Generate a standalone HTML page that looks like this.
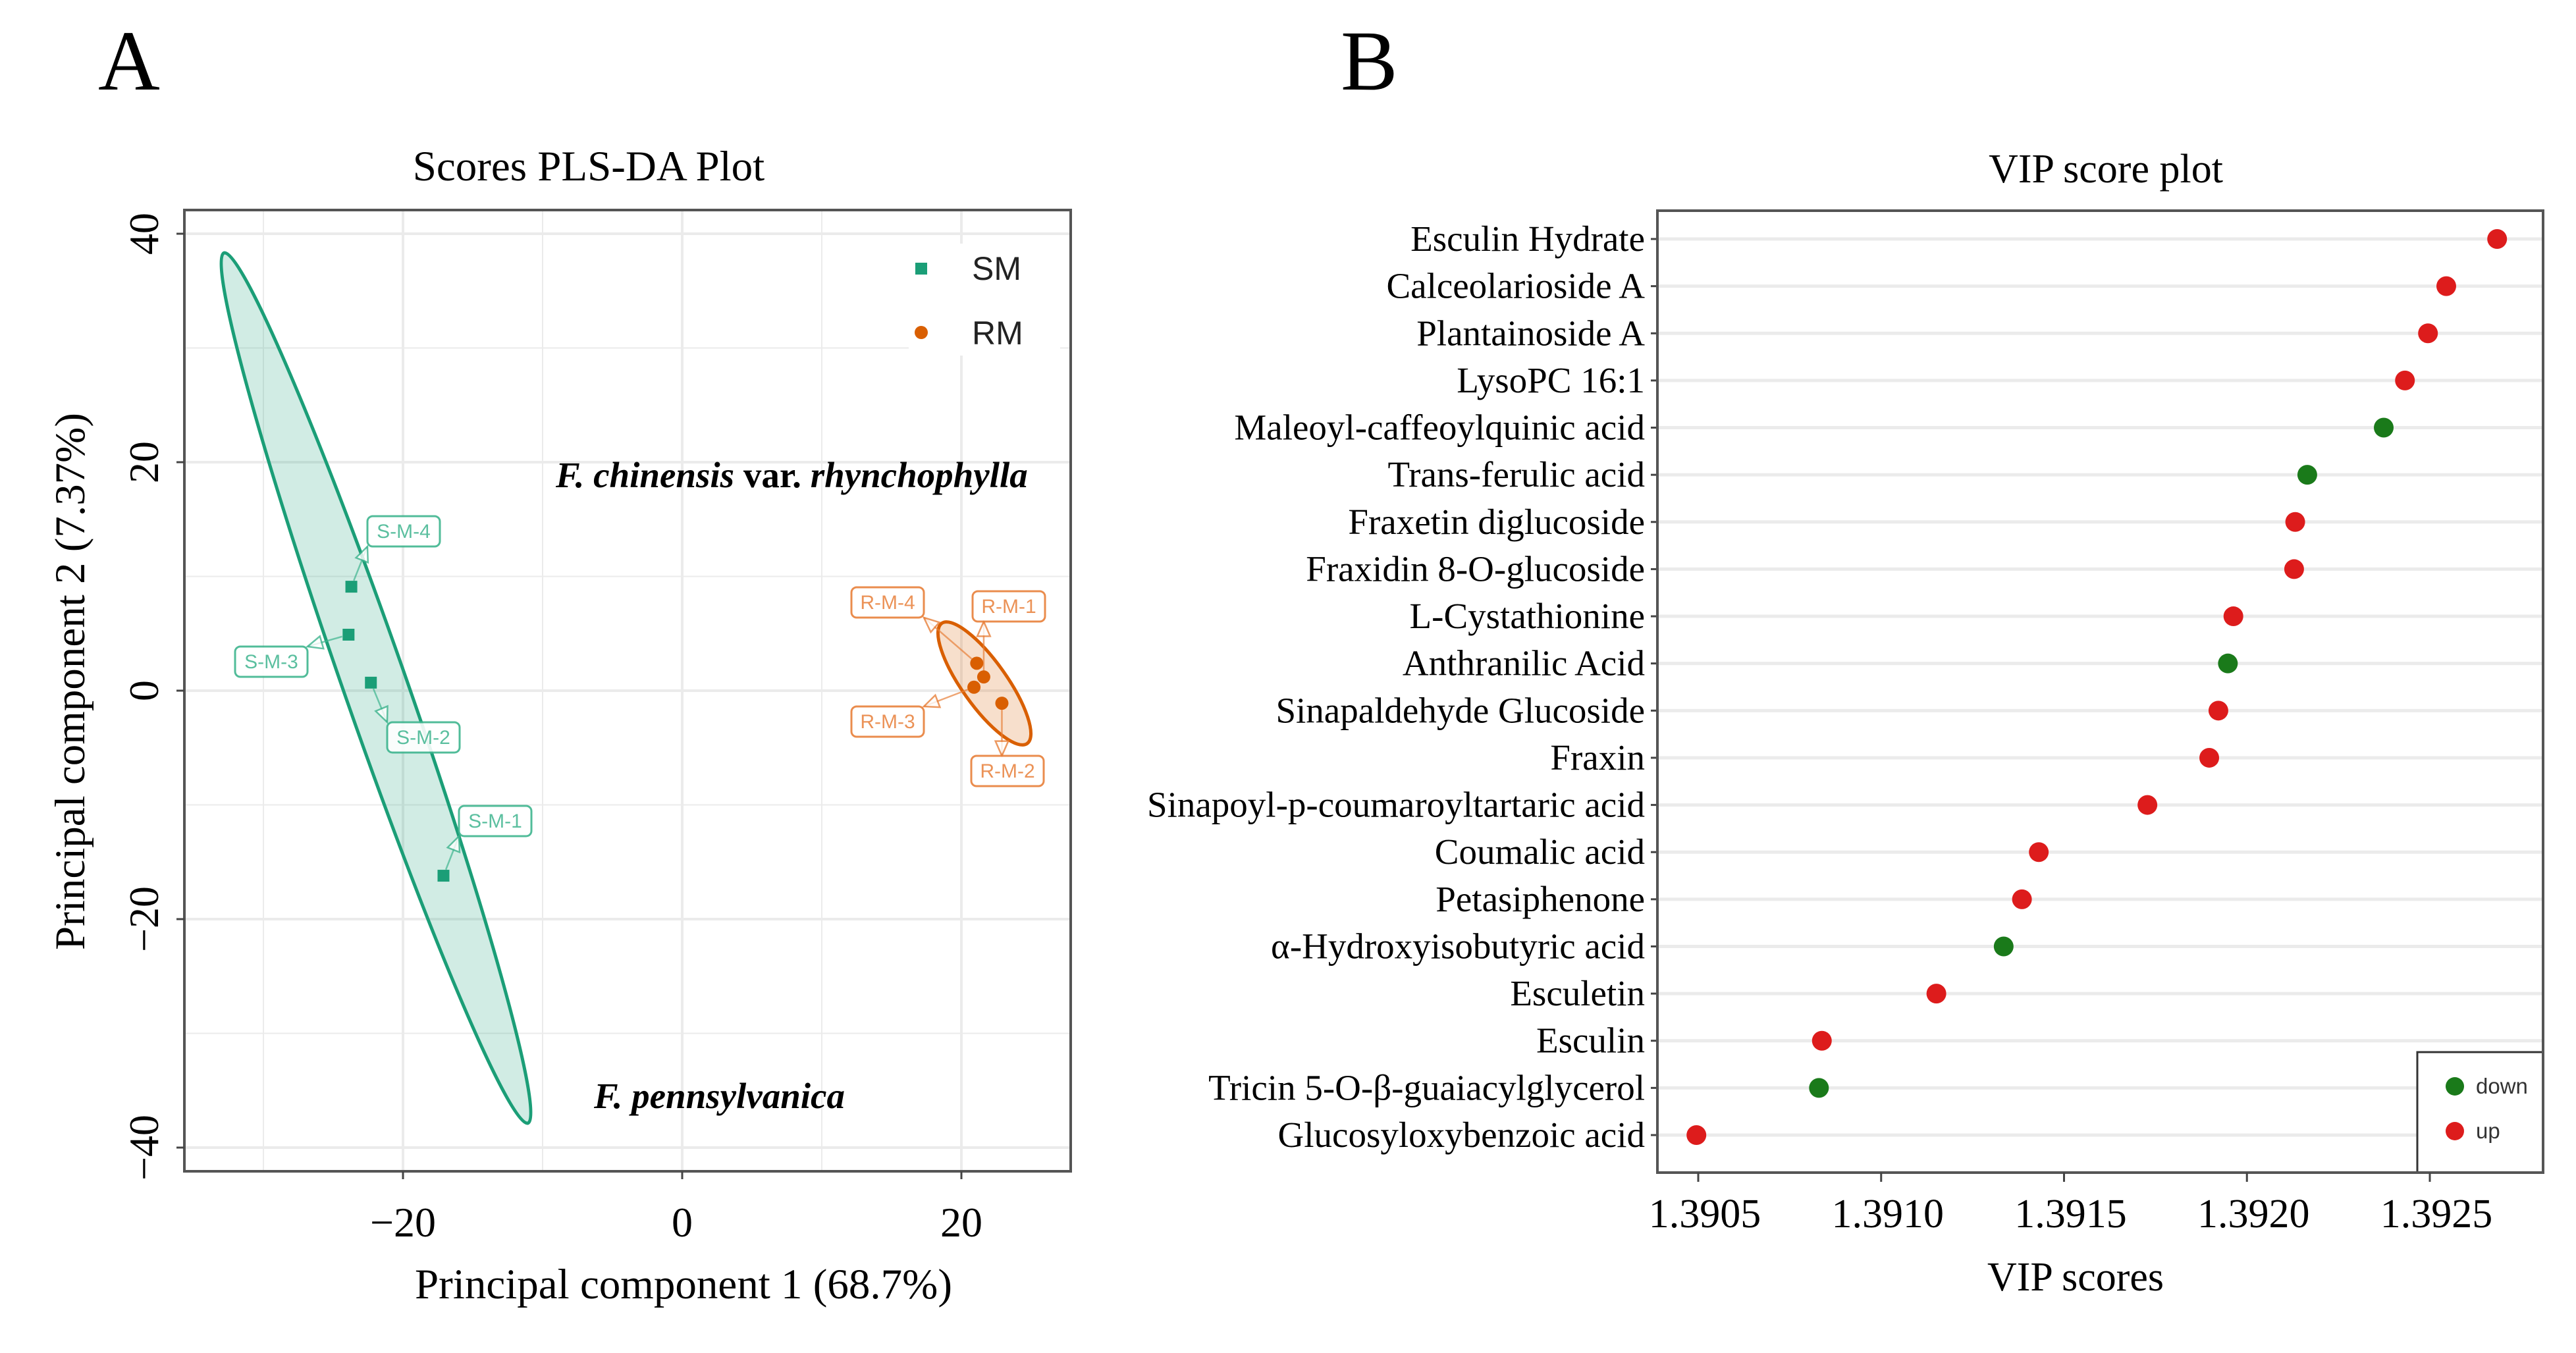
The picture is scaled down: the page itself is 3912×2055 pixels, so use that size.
<!DOCTYPE html>
<html><head><meta charset="utf-8"><style>
html,body{margin:0;padding:0;background:#fff;}
svg{display:block;}
.serif{font-family:"Liberation Serif",serif;}
.sans{font-family:"Liberation Sans",sans-serif;}
</style></head><body>
<svg id="fig" width="3912" height="2055" viewBox="0 0 3912 2055" xmlns="http://www.w3.org/2000/svg">
<rect width="3912" height="2055" fill="#fff"/>
<g id="pa"></g>
<g id="pb"></g>
</svg>
<script>
// ---- Panel A data ----
const smNames = ["S-M-1","S-M-2","S-M-3","S-M-4"];
const smX = [-17.1,-22.3,-23.9,-23.7];
const smY = [-16.2,0.7,4.9,9.1];
const rmNames = ["R-M-1","R-M-2","R-M-3","R-M-4"];
const rmX = [21.6,22.9,20.9,21.1];
const rmY = [1.2,-1.1,0.3,2.4];
const aXTicks = [-20,0,20];
const aYTicks = [-40,-20,0,20,40];
// ---- Panel B data ----
const compounds = ["Esculin Hydrate","Calceolarioside A","Plantainoside A","LysoPC 16:1","Maleoyl-caffeoylquinic acid","Trans-ferulic acid","Fraxetin diglucoside","Fraxidin 8-O-glucoside","L-Cystathionine","Anthranilic Acid","Sinapaldehyde Glucoside","Fraxin","Sinapoyl-p-coumaroyltartaric acid","Coumalic  acid","Petasiphenone","α-Hydroxyisobutyric acid","Esculetin","Esculin","Tricin 5-O-β-guaiacylglycerol","Glucosyloxybenzoic acid"];
const vipScores = [1.392684,1.392545,1.392495,1.392432,1.392374,1.392165,1.392132,1.392129,1.391963,1.391948,1.391922,1.391897,1.391728,1.391431,1.391385,1.391335,1.391151,1.390838,1.39083,1.390495];
const regulation = ["up","up","up","up","down","down","up","up","up","down","up","up","up","up","up","down","up","up","down","up"];
const bXTicks = [1.3905,1.3910,1.3915,1.3920,1.3925];
const bXTickLabels = ["1.3905","1.3910","1.3915","1.3920","1.3925"];

const NS="http://www.w3.org/2000/svg";
function mk(tag,attrs,parent,text){const e=document.createElementNS(NS,tag);for(const k in attrs)e.setAttribute(k,attrs[k]);if(text!==undefined)e.textContent=text;parent.appendChild(e);return e;}

// ===== Panel A =====
const pa=document.getElementById('pa');
const A={l:280,t:319,r:1626,b:1779,x0:1036,y0:1049,sx:21.2,sy:17.35};
const ax=v=>A.x0+v*A.sx, ay=v=>A.y0-v*A.sy;
let t;
t=mk('text',{x:149,y:136,'font-size':130,class:'serif'},pa,'A');

t=mk('text',{x:894,y:274,'font-size':65,'text-anchor':'middle',class:'serif'},pa,'Scores PLS-DA Plot');

const gridA=mk('g',{},pa);

for(let v=-30;v<=20;v+=10){mk('line',{x1:ax(v),x2:ax(v),y1:A.t,y2:A.b,stroke:'#ebebeb','stroke-width':v%20===0?4:2},gridA);}
for(let v=-40;v<=40;v+=10){mk('line',{x1:A.l,x2:A.r,y1:ay(v),y2:ay(v),stroke:'#ebebeb','stroke-width':v%20===0?4:2},gridA);}
// ellipses
let el=mk('ellipse',{cx:571,cy:1045,rx:700,ry:48,transform:'rotate(70.75 571 1045)',fill:'rgba(27,158,119,0.2)',stroke:'#1b9e77','stroke-width':5},pa);

el=mk('ellipse',{cx:1495,cy:1038,rx:112,ry:34,transform:'rotate(54.6 1495 1038)',fill:'rgba(217,95,2,0.2)',stroke:'#d95f02','stroke-width':5},pa);

// labels
const smBoxes=[[697,1224],[588,1097],[357,982],[558,784]];
const rmBoxes=[[1477,898],[1475,1148],[1293,1073],[1293,892]];
function drawLabels(names,xs,ys,boxes,col,grp){
  names.forEach((n,i)=>{
    const px=ax(xs[i]),py=ay(ys[i]);const bx=boxes[i][0],by=boxes[i][1],bw=110,bh=46;
    const tx=Math.min(Math.max(px,bx),bx+bw),ty=Math.min(Math.max(py,by),by+bh);
    const dx=tx-px,dy=ty-py,L=Math.hypot(dx,dy)||1;const ux=dx/L,uy=dy/L;
    const g=mk('g',{},grp);
    
    
    mk('line',{x1:px+ux*10,y1:py+uy*10,x2:tx,y2:ty,stroke:col,'stroke-width':2.5,opacity:0.7},g);
    const s=14;const ax1=tx-ux*s*1.6,ay1=ty-uy*s*1.6;
    mk('polygon',{points:`${tx},${ty} ${ax1-uy*s*0.7},${ay1+ux*s*0.7} ${ax1+uy*s*0.7},${ay1-ux*s*0.7}`,fill:'#fff',stroke:col,'stroke-width':2.5,opacity:0.8},g);
    mk('rect',{x:bx,y:by,width:bw,height:bh,rx:8,fill:'#fff',stroke:col,'stroke-width':3,opacity:0.9},g);
    mk('text',{x:bx+bw/2,y:by+33,'font-size':30,'text-anchor':'middle',fill:col,class:'sans',opacity:0.85},g,n);
  });
}
const lblG=mk('g',{},pa);

drawLabels(smNames,smX,smY,smBoxes,'#3fb58f',lblG);
drawLabels(rmNames,rmX,rmY,rmBoxes,'#e8803a',lblG);
// points
smX.forEach((v,i)=>{const r=mk('rect',{x:ax(v)-9,y:ay(smY[i])-9,width:18,height:18,fill:'#1b9e77'},pa);
});
rmX.forEach((v,i)=>{const c=mk('circle',{cx:ax(v),cy:ay(rmY[i]),r:10,fill:'#d95f02'},pa);
});
// annotations
t=mk('text',{x:844,y:740,'font-size':55,'font-weight':'bold',class:'serif'},pa);

t.innerHTML='<tspan font-style="italic">F. chinensis</tspan> var. <tspan font-style="italic">rhynchophylla</tspan>';
t=mk('text',{x:902,y:1683,'font-size':55,'font-weight':'bold','font-style':'italic',class:'serif'},pa,'F. pennsylvanica');

// legend
const legA=mk('g',{},pa);

mk('rect',{x:1380,y:370,width:230,height:170,fill:'#fff'},legA);
mk('rect',{x:1390,y:399,width:18,height:18,fill:'#1b9e77'},legA);
mk('text',{x:1476,y:425,'font-size':50,class:'sans',fill:'#222'},legA,'SM');
mk('circle',{cx:1399,cy:505,r:10,fill:'#d95f02'},legA);
mk('text',{x:1476,y:523,'font-size':50,class:'sans',fill:'#222'},legA,'RM');
// frame
let fr=mk('rect',{x:A.l,y:A.t,width:A.r-A.l,height:A.b-A.t,fill:'none',stroke:'#555','stroke-width':4},pa);

// ticks
aXTicks.forEach(v=>{mk('line',{x1:ax(v),x2:ax(v),y1:A.b,y2:A.b+12,stroke:'#444','stroke-width':3},pa);
 t=mk('text',{x:ax(v),y:1878,'font-size':64,'text-anchor':'middle',class:'serif'},pa,v<0?'\u2212'+Math.abs(v):String(v));
 });
aYTicks.forEach(v=>{mk('line',{x1:A.l-12,x2:A.l,y1:ay(v),y2:ay(v),stroke:'#444','stroke-width':3},pa);
 t=mk('text',{x:0,y:0,'font-size':64,'text-anchor':'middle',class:'serif',transform:`translate(240 ${ay(v)}) rotate(-90)`},pa,v<0?'\u2212'+Math.abs(v):String(v));
 });
t=mk('text',{x:1038,y:1972,'font-size':65,'text-anchor':'middle',class:'serif'},pa,'Principal component 1 (68.7%)');

t=mk('text',{x:0,y:0,'font-size':65,'text-anchor':'middle',class:'serif',transform:'translate(128 1035) rotate(-90)'},pa,'Principal component 2 (7.37%)');


// ===== Panel B =====
const pb=document.getElementById('pb');
const B={l:2517,t:320,r:3862,b:1781,rowTop:363,rowBot:1724};
const bx=v=>2579+(v-1.3905)/0.0005*277.75;
const by=i=>B.rowTop+i*(B.rowBot-B.rowTop)/(compounds.length-1);
t=mk('text',{x:2036,y:136,'font-size':130,class:'serif'},pb,'B');

t=mk('text',{x:3198,y:277,'font-size':62,'text-anchor':'middle',class:'serif'},pb,'VIP score plot');

compounds.forEach((c,i)=>{
  mk('line',{x1:B.l,x2:B.r,y1:by(i),y2:by(i),stroke:'#ebebeb','stroke-width':5},pb);
  mk('line',{x1:B.l-10,x2:B.l,y1:by(i),y2:by(i),stroke:'#444','stroke-width':3},pb);
  t=mk('text',{x:2498,y:by(i)+18,'font-size':55,'text-anchor':'end',class:'serif'},pb,c);
  
});
// legend box (drawn before dots)
const legB=mk('g',{},pb);

mk('rect',{x:3671,y:1598,width:191,height:183,fill:'#fff',stroke:'#333','stroke-width':3},legB);
mk('circle',{cx:3728,cy:1650,r:14,fill:'#1a7a1a'},legB);
mk('text',{x:3760,y:1661,'font-size':33,class:'sans',fill:'#333'},legB,'down');
mk('circle',{cx:3728,cy:1718,r:14,fill:'#dd1c1c'},legB);
mk('text',{x:3760,y:1729,'font-size':33,class:'sans',fill:'#333'},legB,'up');
vipScores.forEach((v,i)=>{
  const c=mk('circle',{cx:bx(v),cy:by(i),r:15,fill:regulation[i]==='up'?'#dd1c1c':'#1a7a1a'},pb);
  
});
fr=mk('rect',{x:B.l,y:B.t,width:B.r-B.l,height:B.b-B.t,fill:'none',stroke:'#555','stroke-width':4},pb);

bXTicks.forEach((v,i)=>{mk('line',{x1:bx(v),x2:bx(v),y1:B.b,y2:B.b+14,stroke:'#444','stroke-width':3},pb);
 t=mk('text',{x:bx(v)+10,y:1864,'font-size':62,'text-anchor':'middle',class:'serif'},pb,bXTickLabels[i]);
 });
t=mk('text',{x:3152,y:1960,'font-size':62,'text-anchor':'middle',class:'serif'},pb,'VIP scores');

</script>
</body></html>
